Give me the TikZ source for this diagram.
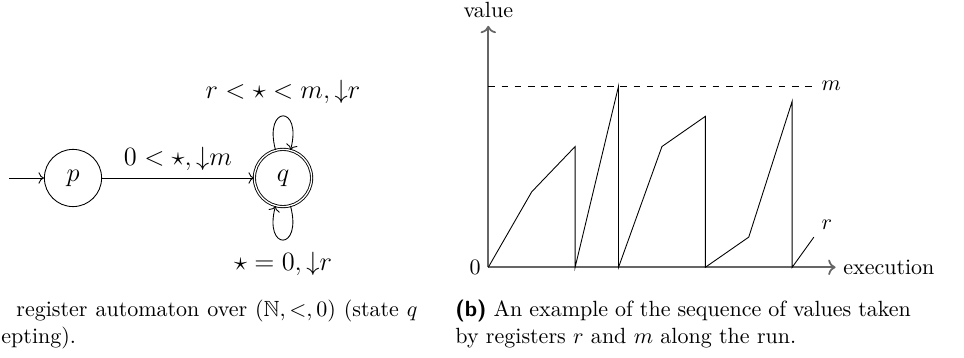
\documentclass[tikz,border=0pt]{standalone}
\usepackage{amsmath,amssymb}
\usetikzlibrary{arrows.meta,positioning}
\tikzset{
  st/.style={circle, draw, inner sep=0pt, minimum size=26pt, font=\large},
  acc/.style={st, double},
  lbl/.style={font=\large},
  ax/.style={->, thick, black!60},
  run/.style={black},
  capline/.style={anchor=base west, inner sep=0pt},
}
\newcommand{\dn}{{\downarrow}}
\begin{document}
\begin{tikzpicture}[x=0.4545pt, y=0.4545pt]
  \useasboundingbox (0,0) rectangle (964,358);
  % automaton
  \coordinate (init) at (9,180);
  \node[st] (p) at (73,180) {$p$};
  \node[acc] (q) at (283,180) {$q$};
  \draw[->] (init) -- (p);
  \draw[->] (p) -- node[lbl, above] (lpq) {$0<\star,\dn m$} (q);
  \draw[->] (q) to[loop above] node[lbl, above=2pt] (lup) {$r<\star<m,\dn r$} (q);
  \draw[->] (q) to[loop below] node[lbl, below=2pt] (ldn) {$\star=0,\dn r$} (q);
  % run of the registers
  \begin{scope}[shift={(488.3,90.7)}, x=19.73pt, y=6.86pt]
    \coordinate (o) at (0,0);
    \coordinate (xe) at (8,0);
    \coordinate (ye) at (0,16);
    \coordinate (me) at (7.5,12);
    \coordinate (re) at (7.5,2);
    \draw[ax] (o) -- (xe);
    \draw[ax] (o) -- (ye);
    \node[right] (exe) at (xe) {execution};
    \node[above] (val) at (ye) {value};
    \node[left] (zero) at (o) {$0$};
    \draw[dashed] (0,12) -- (me);
    \node[right] (mlab) at (me) {$m$};
    \draw[run] (o) -- (1,5) -- (2,8) -- (2,0) -- (3,12) -- (3,0) -- (4,8)
      -- (5,10) -- (5,0) -- (6,2) -- (7,11) -- (7,0) -- (re);
    \node[above right] (rlab) at (re) {$r$};
  \end{scope}
  % captions
  \node[capline] (capa1) at (16,41)
    {\hbox to 182.3pt{register automaton over $(\mathbb{N},<,0)$ (state $q$}};
  \node[capline] (capa2) at (1,14.5) {epting).};
  \node[capline, text width=207pt, align=justify] (capb) at (455,41)
    {\textsf{\textbf{(b)}} An example of the sequence of values taken by registers $r$ and $m$ along the run.};
\end{tikzpicture}
\end{document}
